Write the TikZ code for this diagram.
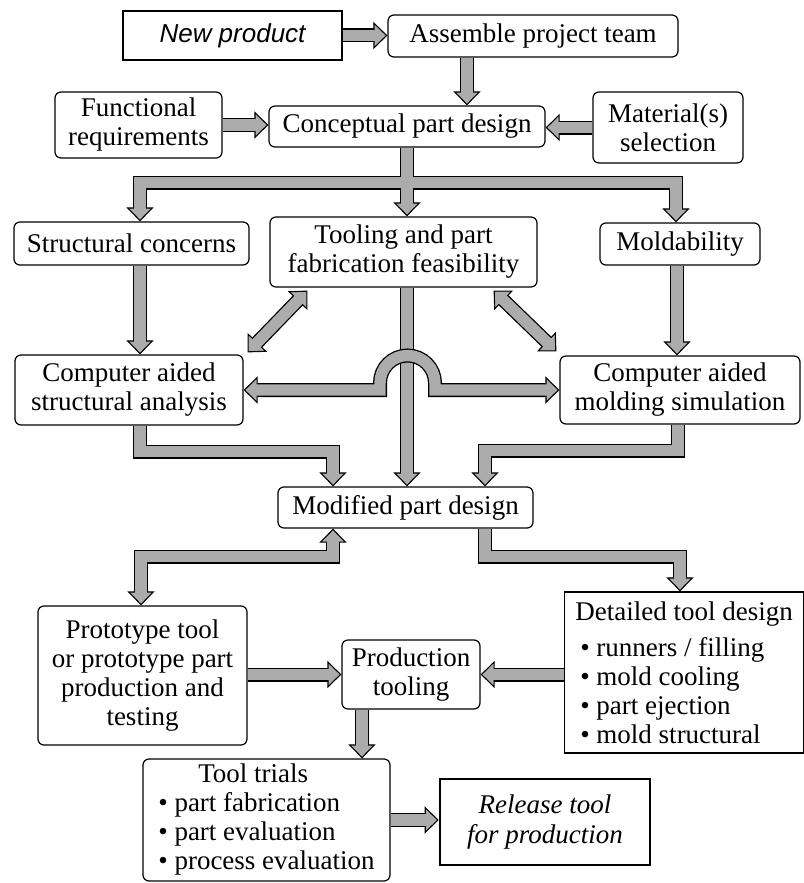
\documentclass[tikz,border=0pt]{standalone}
\usepackage{fontspec}
\setmainfont{Liberation Serif}
\newfontfamily\sansfam{Liberation Sans}
\usetikzlibrary{arrows.meta}

\definecolor{shaftgray}{RGB}{172,172,172}

\tikzset{
  txt/.style={font=\fontsize{27}{29}\selectfont, align=center, inner sep=0pt, text=black},
  rbox/.style={txt, draw, line width=1.2pt, rounded corners=6pt},
  sbox/.style={txt, draw, line width=1.2pt},
  heavybox/.style={txt, draw, line width=2.6pt},
  fatout/.style={draw=black, line width=14pt},
  fatin/.style={draw=shaftgray, line width=11.4pt},
  fathead/.style={-{Triangle[length=14pt,width=27pt,fill=shaftgray,line width=1.1pt]}},
  fatheads/.style={{Triangle[length=14pt,width=27pt,fill=shaftgray,line width=1.1pt]}-{Triangle[length=14pt,width=27pt,fill=shaftgray,line width=1.1pt]}},
  fatR/.style={preaction={fatout, fathead, shorten >=0pt}, fatin, shorten >=11pt},
  fatLR/.style={preaction={fatout, fatheads, shorten >=0pt, shorten <=0pt}, fatin, shorten >=11pt, shorten <=11pt},
}

\begin{document}
\begin{tikzpicture}[x=1pt,y=-1pt]
\useasboundingbox (0,0) rectangle (803,883);

% boxes
\node[heavybox, font=\sansfam\itshape\fontsize{26}{29}\selectfont, minimum width=219pt, minimum height=49pt] (np) at (232.5,35.5) {New product};
\node[rbox, minimum width=290pt, minimum height=42pt] (apt) at (533,36) {Assemble project team};
\node[rbox, minimum width=167pt, minimum height=66pt] (fr) at (138.5,125) {Functional\\requirements};
\node[rbox, minimum width=276pt, minimum height=41pt] (cpd) at (407,126.5) {Conceptual part design};
\node[rbox, minimum width=150pt, minimum height=71pt] (ms) at (668,127.5) {Material(s)\\selection};
\node[rbox, minimum width=235pt, minimum height=43pt] (sc) at (131.5,243.5) {Structural concerns};
\node[rbox, minimum width=267pt, minimum height=70pt] (tpf) at (403.5,252) {Tooling and part\\fabrication feasibility};
\node[rbox, minimum width=160pt, minimum height=42pt] (mo) at (680,244) {Moldability};
\node[rbox, minimum width=228pt, minimum height=70pt] (cas) at (129,390) {Computer aided\\structural analysis};
\node[rbox, minimum width=240pt, minimum height=68pt] (cams) at (680,390) {Computer aided\\molding simulation};
\node[rbox, minimum width=255pt, minimum height=41pt] (mpd) at (405.5,507.5) {Modified part design};
\node[rbox, minimum width=209pt, minimum height=139pt] (proto) at (142.5,675.5) {Prototype tool\\or prototype part\\production and\\testing};
\node[rbox, minimum width=138pt, minimum height=69pt] (prod) at (411,674.5) {Production\\tooling};
\node[sbox, minimum width=239pt, minimum height=161pt, align=left] (dtd) at (684,672.5)
  {Detailed tool design\\[7pt]
   \hspace*{5pt}\textbullet\ runners / filling\\
   \hspace*{5pt}\textbullet\ mold cooling\\
   \hspace*{5pt}\textbullet\ part ejection\\
   \hspace*{5pt}\textbullet\ mold structural};
\node[rbox, minimum width=247pt, minimum height=122pt] (tt) at (266.5,820)
  {\begin{tabular}{@{}l@{}}
   \hspace*{40pt}Tool trials\\
   \textbullet\ part fabrication\\
   \textbullet\ part evaluation\\
   \textbullet\ process evaluation
   \end{tabular}};
\node[heavybox, font=\itshape\fontsize{27}{30}\selectfont, minimum width=210pt, minimum height=86pt] (rel) at (545,822) {Release tool\\for production};

% straight feeds
\draw[fatR] (np.east) -- (np.east -| apt.west);
\draw[fatR] ([xshift=-66pt]apt.south) -- ([xshift=-66pt]apt.south |- cpd.north);
\draw[fatR] (fr.east) -- (fr.east -| cpd.west);
\draw[fatR] (ms.west) -- (ms.west -| cpd.east);

% three-way split below the conceptual design
\coordinate (jn) at ([shift={(0,35)}]cpd.south);
\draw[fatout, fathead] (cpd.south) -- (cpd.south |- tpf.north);
\draw[fatout, fathead] (jn) -| ([xshift=8.5pt]sc.north);
\draw[fatout, fathead] (jn) -| ([xshift=-4pt]mo.north);
\draw[fatin, shorten >=11pt] (cpd.south) -- (cpd.south |- tpf.north);
\draw[fatin, shorten >=11pt] (jn) -| ([xshift=8.5pt]sc.north);
\draw[fatin, shorten >=11pt] (jn) -| ([xshift=-4pt]mo.north);

% analysis column
\draw[fatR] ([xshift=8.5pt]sc.south) -- ([xshift=8.5pt]sc.south |- cas.north);
\draw[fatR] ([xshift=-3pt]mo.south) -- ([xshift=-3pt]mo.south |- cams.north);
\draw[fatLR] ([shift={(38,3)}]tpf.south west) -- ([shift={(4,-2)}]cas.north east);
\draw[fatLR] ([shift={(-44,3)}]tpf.south east) -- ([shift={(-3,-4)}]cams.north west);
\draw[fatR] ([xshift=3.5pt]tpf.south) -- ([xshift=3.5pt]tpf.south |- mpd.north);
% link between the two analyses, hopping over the feasibility line
\draw[fatLR] (cas.east) -- (380,390) -- (380,383) arc[start angle=180, end angle=0, radius=27.5pt] -- (435,390) -- (cams.west);

% merge into the modified design
\draw[fatR] ([xshift=11pt]cas.south) -- ++(0,26) -| ([xshift=-72.5pt]mpd.north);
\draw[fatR] ([xshift=-2pt]cams.south) -- ++(0,26) -| ([xshift=79.5pt]mpd.north);

% tooling stage
\draw[fatLR] ([xshift=-72.5pt]mpd.south) -- ++(0,28) -| ([xshift=-1.5pt]proto.north);
\draw[fatR] ([xshift=79.5pt]mpd.south) -- ++(0,28) -| ([xshift=-4pt]dtd.north);
\draw[fatR] (prod.west -| proto.east) -- (prod.west);
\draw[fatR] (prod.east -| dtd.west) -- (prod.east);
\draw[fatR] ([xshift=-49pt]prod.south) -- ([xshift=-49pt]prod.south |- tt.north);
\draw[fatR] (tt.east) -- (tt.east -| rel.west);
\end{tikzpicture}
\end{document}
